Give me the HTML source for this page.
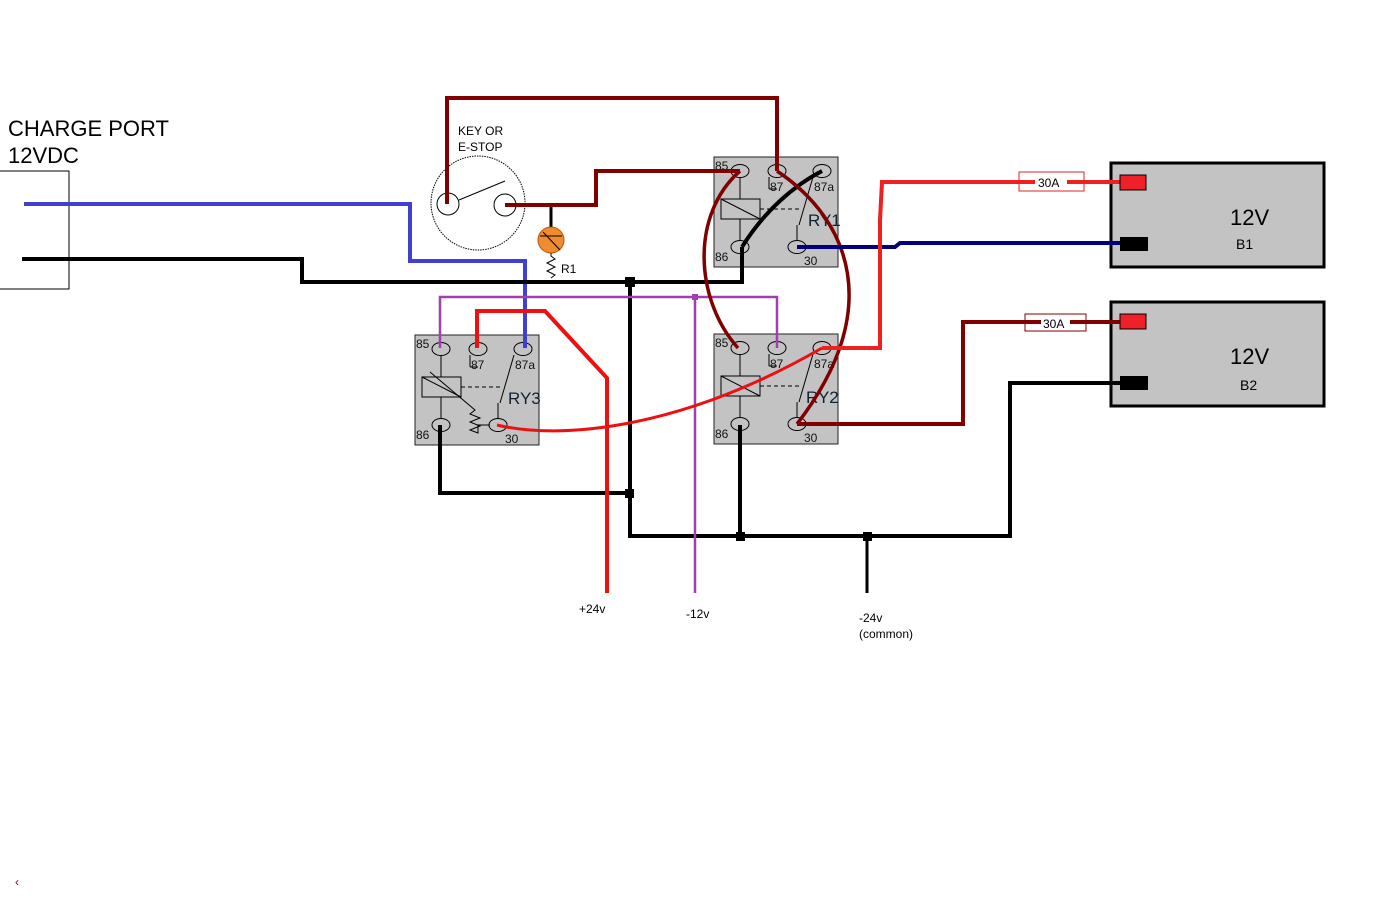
<!DOCTYPE html>
<html><head><meta charset="utf-8"><style>
html,body{margin:0;padding:0;background:#fff;width:1375px;height:900px;overflow:hidden}
svg{display:block;font-family:"Liberation Sans",Arial,sans-serif}
</style></head><body>
<svg width="1375" height="900" viewBox="0 0 1375 900" xmlns="http://www.w3.org/2000/svg">
<defs>
<g id="relay">
  <rect x="0" y="0" width="124" height="110" fill="#c3c3c3" stroke="#222" stroke-width="1"/>
  <g fill="none" stroke="#000" stroke-width="1">
    <ellipse cx="26" cy="14" rx="9" ry="6.5"/>
    <ellipse cx="63" cy="14" rx="9" ry="6.5"/>
    <ellipse cx="108" cy="14" rx="9" ry="6.5"/>
    <ellipse cx="26" cy="90" rx="9" ry="6.5"/>
    <ellipse cx="83" cy="90" rx="9" ry="6.5"/>
    <line x1="26" y1="20" x2="26" y2="42"/>
    <line x1="26" y1="62" x2="26" y2="84"/>
    <rect x="7" y="42" width="39" height="20"/>
    <line x1="7" y1="42" x2="46" y2="62"/>
    <line x1="46" y1="52" x2="85" y2="52" stroke-dasharray="4,3"/>
    <line x1="99" y1="20" x2="85" y2="68"/>
    <line x1="83" y1="68" x2="83" y2="84"/>
    <line x1="55" y1="20" x2="55" y2="32"/><line x1="55" y1="32" x2="63" y2="32"/>
  </g>
  <g font-size="12" fill="#111">
    <text x="1" y="13">85</text><text x="56" y="34">87</text><text x="100" y="34">87a</text>
    <text x="1" y="104">86</text><text x="90" y="108">30</text>
  </g>
</g>
</defs>

<text x="8" y="136" font-size="22" fill="#000">CHARGE PORT</text>
<text x="8" y="163" font-size="22" fill="#000">12VDC</text>
<rect x="-2" y="171" width="71" height="118" fill="none" stroke="#000" stroke-width="1"/>

<use href="#relay" x="714" y="157"/>
<use href="#relay" x="714" y="334"/>
<use href="#relay" x="415" y="335"/>
<text x="808" y="226" font-size="17" fill="#123">RY1</text>
<text x="806" y="403" font-size="17" fill="#123">RY2</text>
<text x="508" y="404" font-size="17" fill="#123">RY3</text>
<polyline points="430,372 475,410 470,414 480,418 470,422 480,426 470,430 478,433 478,425 490,425" fill="none" stroke="#000" stroke-width="1"/>

<rect x="1111" y="163" width="213" height="104" fill="#c3c3c3" stroke="#000" stroke-width="3"/>
<rect x="1111" y="302" width="213" height="104" fill="#c3c3c3" stroke="#000" stroke-width="3"/>
<text x="1230" y="225" font-size="22">12V</text><text x="1236" y="249" font-size="14">B1</text>
<text x="1230" y="364" font-size="22">12V</text><text x="1240" y="390" font-size="14">B2</text>

<circle cx="478" cy="203" r="47" fill="none" stroke="#000" stroke-width="1" stroke-dasharray="1.5,1"/>
<circle cx="448" cy="204" r="11" fill="none" stroke="#000" stroke-width="1"/>
<circle cx="505" cy="205" r="11" fill="none" stroke="#000" stroke-width="1"/>
<line x1="459" y1="200" x2="505" y2="181" stroke="#000" stroke-width="1"/>
<text x="458" y="135" font-size="12">KEY OR</text><text x="458" y="151" font-size="12">E-STOP</text>

<line x1="551" y1="205" x2="551" y2="229" stroke="#000" stroke-width="3"/>
<circle cx="551" cy="240" r="13" fill="#f08c30" stroke="#c05000" stroke-width="1"/>
<line x1="540" y1="236" x2="562" y2="236" stroke="#000" stroke-width="1"/>
<line x1="543" y1="232" x2="560" y2="250" stroke="#000" stroke-width="1"/>
<polyline points="551,253 551,256 555,259 547,263 555,267 547,271 555,275 551,278" fill="none" stroke="#000" stroke-width="1"/>
<text x="561" y="273" font-size="12">R1</text>

<rect x="1019" y="172" width="65" height="19" fill="#fff" stroke="#e02020" stroke-width="1"/>
<rect x="1025" y="314" width="61" height="17" fill="#fff" stroke="#800000" stroke-width="1"/>

<g fill="none" stroke-linejoin="miter">
<polyline points="24,204 410,204 410,261 525,261 525,348" stroke="#4040d0" stroke-width="4"/>
<polyline points="22,259 302,259 302,282 742,282 742,247" stroke="#000" stroke-width="4"/>
<polyline points="630,282 630,536 1010,536 1010,383 1130,383" stroke="#000" stroke-width="4"/>
<polyline points="440,425 440,493 630,493" stroke="#000" stroke-width="4"/>
<line x1="740" y1="425" x2="740" y2="536" stroke="#000" stroke-width="4"/>
<line x1="867" y1="536" x2="867" y2="593" stroke="#000" stroke-width="3"/>
<path d="M742,247 C765,210 795,185 822,171" stroke="#000" stroke-width="4"/>
<polyline points="440,348 440,297 777,297 777,348" stroke="#a040b0" stroke-width="2.5"/>
<line x1="695" y1="297" x2="695" y2="593" stroke="#a040b0" stroke-width="2.5"/>
<polyline points="447,204 447,98 777,98 777,171" stroke="#800000" stroke-width="4"/>
<polyline points="505,205 596,205 596,171 740,171" stroke="#800000" stroke-width="4"/>
<path d="M740,171 C690,215 695,300 738,348" stroke="#800000" stroke-width="3.5"/>
<path d="M777,171 C850,220 885,310 797,424" stroke="#800000" stroke-width="3.5"/>
<polyline points="797,424 963,424 963,322 1130,322" stroke="#800000" stroke-width="4"/>
<polyline points="797,247 895,247 900,243 1130,243" stroke="#000080" stroke-width="4"/>
<polyline points="822,348 880,348 880,220 882,182 1130,182" stroke="#ee2020" stroke-width="4"/>
<polyline points="477,348 477,311 545,311 607,378 607,593" stroke="#ee1010" stroke-width="4"/>
<path d="M497,425 C560,440 680,430 822,348" stroke="#ee1010" stroke-width="3"/>
</g>
<rect x="1035" y="175" width="32" height="14" fill="#fff"/>
<text x="1038" y="187" font-size="12">30A</text>
<rect x="1041" y="316" width="29" height="14" fill="#fff"/>
<text x="1043" y="328" font-size="12">30A</text>

<rect x="1120" y="175" width="26" height="15" fill="#ee2028" stroke="#000" stroke-width="1"/>
<rect x="1120" y="314" width="26" height="15" fill="#ee2028" stroke="#000" stroke-width="1"/>
<rect x="1120" y="237" width="28" height="14" fill="#000"/>
<rect x="1120" y="376" width="28" height="14" fill="#000"/>

<rect x="625" y="277" width="10" height="10" fill="#000"/>
<rect x="625" y="489" width="9" height="9" fill="#000"/>
<rect x="736" y="532" width="9" height="9" fill="#000"/>
<rect x="863" y="532" width="9" height="9" fill="#000"/>
<rect x="692" y="294" width="6" height="6" fill="#a040b0"/>

<text x="579" y="613" font-size="12">+24v</text>
<text x="686" y="618" font-size="12">-12v</text>
<text x="859" y="622" font-size="12">-24v</text>
<text x="859" y="638" font-size="12">(common)</text>
<text x="15" y="886" font-size="12" fill="#800">‹</text>
</svg>
</body></html>
